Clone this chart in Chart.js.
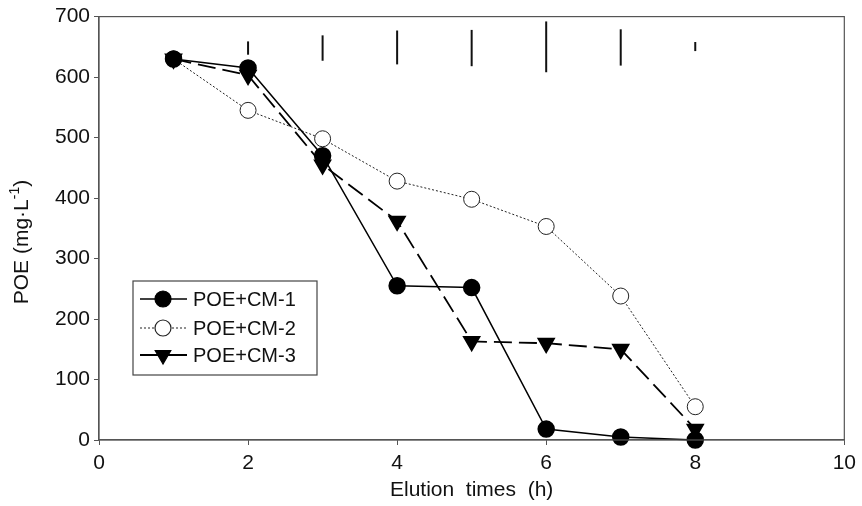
<!DOCTYPE html>
<html>
<head>
<meta charset="utf-8">
<script src="https://cdn.jsdelivr.net/npm/chart.js@4/dist/chart.umd.min.js"></script>
<style>
  html, body { margin: 0; padding: 0; background: #fff; }
  #wrap { width: 862px; height: 506px; }
</style>
</head>
<body>
<div id="wrap"><canvas id="c" width="862" height="506"></canvas></div>
<script>
var times = [1, 2, 3, 4, 5, 6, 7, 8];
var cm1 = [630, 615, 470, 255, 252, 18, 5, 0];
var cm2 = [630, 545, 498, 428, 398, 353, 238, 55];
var cm3 = [630, 603, 455, 362, 163, 160, 150, 18];

// the stray error bars along the top of the plot
var errX = [2, 3, 4, 5, 6, 7, 8];
var errLow = [637, 627, 621, 618, 608, 619, 643];
var errHigh = [659, 669, 677, 678, 692, 679, 658];

var FONT = "'Liberation Sans', Arial, sans-serif";

function pts(ys) {
  return times.map(function (t, i) { return { x: t, y: ys[i] }; });
}

var frame = {
  id: 'frame',
  afterDraw: function (chart) {
    var a = chart.chartArea, ctx = chart.ctx;
    var x = chart.scales.x, y = chart.scales.y;
    ctx.save();
    ctx.strokeStyle = '#555';
    ctx.lineWidth = 1.2;
    ctx.strokeRect(a.left, a.top, a.right - a.left, a.bottom - a.top);

    ctx.strokeStyle = '#111';
    ctx.lineWidth = 2;
    errX.forEach(function (t, i) {
      var px = x.getPixelForValue(t);
      ctx.beginPath();
      ctx.moveTo(px, y.getPixelForValue(errLow[i]));
      ctx.lineTo(px, y.getPixelForValue(errHigh[i]));
      ctx.stroke();
    });

    // y axis title with superscript
    ctx.save();
    ctx.translate(22, 242);
    ctx.rotate(-Math.PI / 2);
    ctx.fillStyle = '#111';
    ctx.textBaseline = 'middle';
    var big = '21px ' + FONT, small = '14px ' + FONT;
    ctx.font = big;
    var p1 = 'POE (mg\u00b7L', p3 = ')';
    var w1 = ctx.measureText(p1).width, w3 = ctx.measureText(p3).width;
    ctx.font = small;
    var p2 = '-1', w2 = ctx.measureText(p2).width;
    var x0 = -(w1 + w2 + w3) / 2;
    ctx.font = big;
    ctx.fillText(p1, x0, 0);
    ctx.font = small;
    ctx.fillText(p2, x0 + w1, -7);
    ctx.font = big;
    ctx.fillText(p3, x0 + w1 + w2, 0);
    ctx.restore();

    // legend box
    var bx = 133, by = 281, bw = 184, bh = 94;
    ctx.strokeStyle = '#444';
    ctx.lineWidth = 1.2;
    ctx.strokeRect(bx, by, bw, bh);
    var rows = [299, 328, 355];
    chart.data.datasets.forEach(function (ds, i) {
      var ry = rows[i];
      ctx.save();
      ctx.strokeStyle = ds.borderColor;
      ctx.lineWidth = ds.borderWidth;
      ctx.setLineDash(i === 1 ? [2, 2] : []);
      ctx.beginPath();
      ctx.moveTo(140, ry);
      ctx.lineTo(187, ry);
      ctx.stroke();
      ctx.restore();
      ctx.save();
      ctx.fillStyle = ds.pointBackgroundColor;
      ctx.strokeStyle = ds.pointBorderColor;
      Chart.helpers.drawPoint(ctx, {
        pointStyle: ds.pointStyle, radius: ds.pointRadius, rotation: ds.pointRotation || 0,
        borderWidth: 1
      }, 163, ry);
      ctx.restore();
      ctx.fillStyle = '#111';
      ctx.font = '20px ' + FONT;
      ctx.textBaseline = 'middle';
      ctx.fillText(ds.label, 193, ry + 1);
    });
    ctx.restore();
  }
};

new Chart(document.getElementById('c'), {
  type: 'line',
  data: {
    datasets: [
      { label: 'POE+CM-1', data: pts(cm1), borderColor: '#000', borderWidth: 1.5, clip: false,
        pointStyle: 'circle', pointRadius: 8, pointBackgroundColor: '#000', pointBorderColor: '#000' },
      { label: 'POE+CM-2', data: pts(cm2), borderColor: '#222', borderWidth: 1, borderDash: [2, 2], clip: false,
        pointStyle: 'circle', pointRadius: 8, pointBackgroundColor: '#fff', pointBorderColor: '#222' },
      { label: 'POE+CM-3', data: pts(cm3), borderColor: '#000', borderWidth: 1.8, borderDash: [18, 7], clip: false,
        pointStyle: 'triangle', pointRotation: 180, pointRadius: 9, pointBackgroundColor: '#000', pointBorderColor: '#000' }
    ]
  },
  options: {
    responsive: false,
    animation: false,
    layout: { padding: { top: 15, right: 16 } },
    plugins: { legend: { display: false }, tooltip: { enabled: false } },
    elements: { line: { tension: 0 }, point: { borderWidth: 1 } },
    scales: {
      x: {
        type: 'linear', min: 0, max: 10,
        afterFit: function (s) { s.height = 66; },
        border: { display: true, color: '#555', width: 1.2 },
        grid: { display: true, drawOnChartArea: false, tickLength: 5, color: '#555' },
        ticks: { stepSize: 2, color: '#111', padding: 6, font: { family: FONT, size: 21 } },
        title: { display: true, text: 'Elution  times  (h)', color: '#111',
                 padding: { top: 0, bottom: 3 }, font: { family: FONT, size: 21 } }
      },
      y: {
        min: 0, max: 700,
        afterFit: function (s) { s.width = 99; },
        border: { display: true, color: '#555', width: 1.2 },
        grid: { display: true, drawOnChartArea: false, tickLength: 5, color: '#555' },
        ticks: { stepSize: 100, color: '#111', padding: 4, font: { family: FONT, size: 21 } },
        title: { display: false }
      }
    }
  },
  plugins: [frame]
});
</script>
</body>
</html>
